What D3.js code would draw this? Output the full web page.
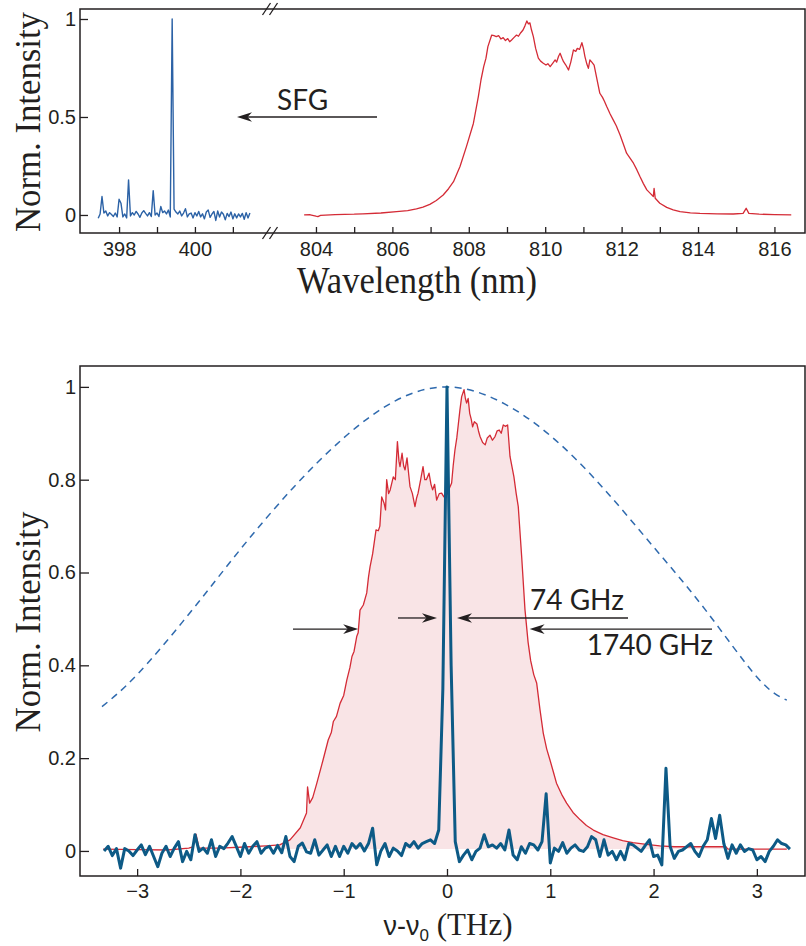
<!DOCTYPE html>
<html>
<head>
<meta charset="utf-8">
<script src="https://cdn.jsdelivr.net/npm/d3@7"></script>
<style>
body { margin: 0; background: #fff; }
</style>
</head>
<body>
<div id="vis_container"></div>
<script>
// ---- data ----

// top panel, SFG spectrum, sampled every 0.05 nm starting at 397.45 nm
var sfgWlStart = 397.45, sfgWlStep = 0.05;
var sfgWlValues = [
	-0.017, 0.005, 0.094, 0.010, 0.020, -0.005, 0.012, 0.002, -0.008, 0.010,
	-0.010, 0.080, 0.060, -0.010, 0.005, -0.015, 0.179, -0.005, 0.012, 0.000,
	0.018, 0.005, -0.012, 0.010, 0.022, 0.008, -0.005, 0.012, -0.008, 0.124,
	0.000, 0.010, -0.008, 0.043, 0.012, 0.020, 0.005, 0.025, -0.010, 1.000,
	0.030, 0.015, 0.005, 0.020, -0.005, 0.010, 0.032, -0.010, 0.005, 0.010,
	-0.015, 0.012, -0.005, 0.018, -0.010, 0.006, -0.020, 0.015, 0.025, -0.012,
	0.005, 0.018, -0.028, 0.020, -0.010, 0.015, 0.004, -0.025, 0.008, -0.008,
	0.015, -0.020, 0.006, -0.015, 0.005, -0.010, 0.008, -0.022, 0.012, -0.015,
	0.010
];

// top panel, pump spectrum [wavelength nm, intensity]
var pumpWl = [
	[803.69,0.000],[803.85,0.001],[804.00,-0.006],[804.05,-0.008],[804.12,-0.002],[804.50,0.002],
	[805.00,0.004],[805.23,0.006],[805.70,0.010],[806.11,0.017],[806.40,0.022],[806.63,0.031],
	[806.80,0.040],[806.98,0.054],[807.15,0.074],[807.33,0.102],[807.47,0.134],[807.60,0.170],
	[807.77,0.247],[807.94,0.350],[808.12,0.467],[808.25,0.604],[808.32,0.690],[808.39,0.757],
	[808.45,0.800],[808.50,0.859],[808.60,0.918],[808.66,0.915],[808.72,0.910],[808.78,0.915],
	[808.84,0.898],[808.90,0.905],[808.96,0.890],[809.02,0.900],[809.07,0.884],[809.12,0.893],
	[809.18,0.905],[809.25,0.918],[809.30,0.912],[809.36,0.930],[809.42,0.944],[809.47,0.965],
	[809.52,0.990],[809.56,0.975],[809.60,0.980],[809.64,0.945],[809.69,0.910],[809.75,0.850],
	[809.82,0.800],[809.88,0.785],[809.95,0.774],[810.02,0.765],[810.07,0.772],[810.13,0.757],
	[810.20,0.775],[810.26,0.791],[810.30,0.780],[810.35,0.810],[810.39,0.825],[810.44,0.800],
	[810.48,0.782],[810.54,0.765],[810.61,0.740],[810.67,0.780],[810.74,0.842],[810.80,0.835],
	[810.84,0.850],[810.90,0.845],[810.96,0.879],[811.00,0.850],[811.04,0.808],[811.09,0.770],
	[811.13,0.748],[811.17,0.791],[811.22,0.780],[811.28,0.765],[811.35,0.697],[811.43,0.621],
	[811.50,0.600],[811.55,0.580],[811.61,0.553],[811.70,0.515],[811.78,0.485],[811.86,0.455],
	[811.96,0.408],[812.04,0.365],[812.13,0.315],[812.22,0.290],[812.31,0.264],[812.40,0.230],
	[812.48,0.196],[812.57,0.160],[812.66,0.128],[812.75,0.110],[812.83,0.094],[812.85,0.136],
	[812.88,0.085],[813.00,0.060],[813.18,0.039],[813.35,0.026],[813.53,0.017],[813.80,0.011],
	[814.05,0.008],[814.50,0.006],[814.92,0.005],[815.18,0.008],[815.26,0.034],[815.33,0.008],
	[815.60,0.004],[816.00,0.002],[816.44,0.000]
];

// bottom panel, SFG spectrum, sampled every 0.04 THz starting at -3.32 THz
var sfgFreqStart = -3.32, sfgFreqStep = 0.04;
var sfgFreqValues = [
	0.000, 0.010, -0.010, 0.005, -0.037, 0.005, 0.000, -0.010, 0.002, 0.013,
	-0.008, 0.010, -0.012, -0.034, -0.005, 0.010, -0.012, 0.006, 0.020, -0.023,
	-0.001, -0.019, 0.035, -0.001, 0.006, -0.005, 0.024, -0.012, 0.010, 0.005,
	0.017, 0.031, 0.010, -0.012, 0.016, -0.005, 0.010, 0.020, -0.005, 0.006,
	0.010, -0.005, 0.012, -0.004, 0.031, -0.012, -0.023, 0.010, 0.017, -0.002,
	-0.005, 0.024, -0.009, 0.002, 0.013, -0.012, 0.010, -0.012, 0.010, -0.005,
	0.016, 0.006, 0.016, 0.000, 0.016, 0.049, -0.030, 0.000, 0.016, -0.012,
	0.006, 0.000, -0.010, 0.016, 0.009, 0.020, 0.006, 0.016, 0.020, 0.024,
	0.016, 0.045, 0.350, 1.000, 0.400, 0.020, -0.023, -0.009, 0.002, -0.019,
	-0.001, 0.006, 0.035, 0.009, 0.013, 0.006, 0.016, 0.002, 0.045, -0.009,
	-0.019, 0.009, -0.005, 0.016, 0.013, 0.002, 0.020, 0.123, -0.026, 0.006,
	-0.001, 0.018, -0.005, 0.006, 0.013, 0.002, -0.001, 0.009, 0.031, 0.024,
	-0.012, 0.024, -0.009, -0.001, -0.019, -0.001, -0.019, 0.016, 0.013, 0.006,
	-0.001, 0.012, 0.024, -0.012, -0.009, -0.030, 0.178, 0.010, -0.016, -0.001,
	0.002, 0.009, 0.016, -0.001, -0.012, 0.010, 0.024, 0.070, 0.027, 0.077,
	0.016, -0.016, 0.013, -0.005, 0.013, -0.001, 0.005, 0.002, -0.019, -0.012,
	-0.023, -0.001, 0.010, 0.024, 0.016, 0.013, 0.004
];

// bottom panel, pump spectrum [nu - nu0 THz, intensity]
var pumpFreq = [
	[-3.33,0.004],[-3.00,0.003],[-2.71,0.002],[-2.50,0.006],[-2.46,0.009],[-2.43,0.036],[-2.40,0.006],
	[-2.20,0.006],[-1.91,0.009],[-1.75,0.011],[-1.62,0.013],[-1.52,0.024],[-1.42,0.050],[-1.36,0.082],
	[-1.35,0.138],[-1.33,0.103],[-1.30,0.115],[-1.26,0.146],[-1.20,0.196],[-1.15,0.239],[-1.12,0.255],
	[-1.10,0.279],[-1.07,0.290],[-1.035,0.318],[-1.00,0.335],[-0.97,0.368],[-0.94,0.395],[-0.92,0.419],
	[-0.90,0.430],[-0.874,0.462],[-0.86,0.470],[-0.842,0.519],[-0.81,0.530],[-0.777,0.556],[-0.76,0.590],
	[-0.745,0.612],[-0.72,0.640],[-0.687,0.692],[-0.665,0.690],[-0.65,0.700],[-0.632,0.763],[-0.61,0.750],
	[-0.595,0.735],[-0.584,0.800],[-0.565,0.770],[-0.55,0.778],[-0.52,0.806],[-0.50,0.800],[-0.48,0.882],
	[-0.465,0.840],[-0.455,0.828],[-0.435,0.857],[-0.42,0.830],[-0.406,0.821],[-0.387,0.847],[-0.37,0.810],
	[-0.358,0.785],[-0.335,0.770],[-0.31,0.742],[-0.295,0.760],[-0.28,0.771],[-0.255,0.800],[-0.232,0.828],
	[-0.215,0.800],[-0.20,0.800],[-0.174,0.814],[-0.155,0.790],[-0.139,0.778],[-0.12,0.790],[-0.10,0.756],
	[-0.075,0.770],[-0.052,0.771],[-0.03,0.763],[0.00,0.768],[0.02,0.780],[0.045,0.793],[0.06,0.830],
	[0.077,0.864],[0.095,0.890],[0.11,0.920],[0.125,0.950],[0.142,0.979],[0.165,0.994],[0.178,0.975],
	[0.19,0.965],[0.205,0.975],[0.22,0.943],[0.235,0.930],[0.248,0.914],[0.265,0.925],[0.29,0.920],
	[0.305,0.905],[0.32,0.893],[0.345,0.880],[0.37,0.875],[0.39,0.890],[0.416,0.896],[0.44,0.885],
	[0.465,0.893],[0.485,0.905],[0.506,0.907],[0.525,0.900],[0.545,0.918],[0.565,0.915],[0.587,0.918],
	[0.61,0.850],[0.648,0.806],[0.67,0.770],[0.69,0.742],[0.723,0.634],[0.755,0.520],[0.785,0.450],
	[0.81,0.410],[0.84,0.380],[0.868,0.362],[0.90,0.305],[0.932,0.254],[0.965,0.220],[0.997,0.196],
	[1.03,0.170],[1.06,0.146],[1.11,0.122],[1.158,0.103],[1.22,0.083],[1.29,0.067],[1.35,0.055],
	[1.417,0.045],[1.51,0.035],[1.61,0.028],[1.70,0.022],[1.80,0.018],[1.93,0.014],[2.06,0.011],
	[2.20,0.009],[2.38,0.009],[2.55,0.009],[2.70,0.009],[2.72,0.004],[3.00,0.004],[3.29,0.004]
];

// dashed envelope, read at a few points
var envFreq = [-3.34, -3.0, -2.5, -2.0, -1.5, -1.0, -0.5, 0, 0.5, 1.0, 1.5, 2.0, 2.5, 3.0, 3.29];
var envValues = [0.311, 0.38, 0.51, 0.65, 0.78, 0.89, 0.97, 1.0, 0.97, 0.895, 0.785, 0.655, 0.52, 0.375, 0.325];

var leftWlTicks = [398, 399, 400, 401];
var rightWlTicks = [804, 805, 806, 807, 808, 809, 810, 811, 812, 813, 814, 815, 816];
var upperYTicks = [0, 0.5, 1];
var freqTicks = [-3, -2, -1, 0, 1, 2, 3];
var lowerYTicks = [0, 0.2, 0.4, 0.6, 0.8, 1];

// FWHM marks (THz) and their labels
var fwhmPump = [-0.86, 0.80], fwhmSfg = [-0.097, 0.097];
var fwhmLabels = ["74 GHz", "1740 GHz"];

// ---- drawing ----
var ink = "#231f20";
var sans = "'Liberation Sans', Arial, sans-serif";
var serif = "'Liberation Serif', 'Times New Roman', serif";
var note = "Lato, 'Open Sans', sans-serif";

var svg = d3.select("#vis_container").append("svg")
	.attr("width", 806)
	.attr("height", 946)
	.style("display", "block");

var upper = {left: 80, right: 805, top: 9, bottom: 233, brk: 270};
var lower = {left: 80, right: 805, top: 366, bottom: 876};

var xLeft = d3.scaleLinear().domain([396.97, 401.9]).range([upper.left, 267]);
var xRight = d3.scaleLinear().domain([802.98, 816.8]).range([277, upper.right]);
var yUp = d3.scaleLinear().domain([-0.092, 1.051]).range([upper.bottom, upper.top]);

var xF = d3.scaleLinear().domain([-3.553, 3.466]).range([lower.left, lower.right]);
var yLo = d3.scaleLinear().domain([-0.054, 1.045]).range([lower.bottom, lower.top]);

function styleAxis(g) {
	g.select(".domain").remove();
	g.selectAll("line").attr("stroke", ink).attr("stroke-width", 1.3);
	g.selectAll("text").attr("fill", ink).style("font-family", sans).style("font-size", "20px");
}

function evenOnly(d) { return d % 2 === 0 ? d : ""; }

// ---------- upper panel ----------
var up = svg.append("g");

up.append("g")
	.attr("transform", "translate(0," + upper.bottom + ")")
	.call(d3.axisBottom(xLeft).tickValues(leftWlTicks).tickFormat(evenOnly).tickSize(-6).tickPadding(9))
	.call(styleAxis);
up.append("g")
	.attr("transform", "translate(0," + upper.bottom + ")")
	.call(d3.axisBottom(xRight).tickValues(rightWlTicks).tickFormat(evenOnly).tickSize(-6).tickPadding(9))
	.call(styleAxis);
up.append("g")
	.attr("transform", "translate(" + upper.left + ",0)")
	.call(d3.axisLeft(yUp).tickValues(upperYTicks).tickFormat(d3.format("")).tickSize(-8).tickPadding(4))
	.call(styleAxis);

up.append("rect")
	.attr("x", upper.left).attr("y", upper.top)
	.attr("width", upper.right - upper.left).attr("height", upper.bottom - upper.top)
	.attr("fill", "none").attr("stroke", ink).attr("stroke-width", 1.5);

// axis break marks
[upper.top, upper.bottom].forEach(function(yy) {
	[-3.5, 3.5].forEach(function(dx) {
		up.append("line")
			.attr("x1", upper.brk + dx - 4).attr("y1", yy + 6)
			.attr("x2", upper.brk + dx + 4).attr("y2", yy - 6)
			.attr("stroke", ink).attr("stroke-width", 1.3);
	});
});

var sfgWlLine = d3.line()
	.x(function(d, i) { return xLeft(sfgWlStart + i * sfgWlStep); })
	.y(function(d) { return yUp(d); });
up.append("path")
	.attr("d", sfgWlLine(sfgWlValues))
	.attr("fill", "none").attr("stroke", "#2c62a6").attr("stroke-width", 1.4)
	.attr("stroke-linejoin", "round");

var pumpWlLine = d3.line()
	.x(function(d) { return xRight(d[0]); })
	.y(function(d) { return yUp(d[1]); });
up.append("path")
	.attr("d", pumpWlLine(pumpWl))
	.attr("fill", "none").attr("stroke", "#d42b36").attr("stroke-width", 1.3)
	.attr("stroke-linejoin", "round");

function arrow(g, x1, x2, y) {
	var d = x2 > x1 ? 1 : -1;
	g.append("line")
		.attr("x1", x1).attr("y1", y).attr("x2", x2 - d * 10).attr("y2", y)
		.attr("stroke", ink).attr("stroke-width", 1.3);
	g.append("path")
		.attr("d", "M" + x2 + "," + y +
			"L" + (x2 - d * 15) + "," + (y - 4.8) +
			"L" + (x2 - d * 10.5) + "," + y +
			"L" + (x2 - d * 15) + "," + (y + 4.8) + "Z")
		.attr("fill", ink);
}

// SFG arrow and label
arrow(up, 377, 237, 117);
up.append("text")
	.attr("x", 277).attr("y", 110)
	.style("font-family", note).style("font-size", "28px").attr("fill", ink)
	.text("SFG");

up.append("text")
	.attr("transform", "translate(40," + ((upper.top + upper.bottom) / 2 + 1) + ") rotate(-90)")
	.attr("text-anchor", "middle")
	.attr("textLength", 220).attr("lengthAdjust", "spacingAndGlyphs")
	.style("font-family", serif).style("font-size", "36px").attr("fill", ink)
	.text("Norm. Intensity");

up.append("text")
	.attr("x", 417).attr("y", 293)
	.attr("text-anchor", "middle")
	.attr("textLength", 240).attr("lengthAdjust", "spacingAndGlyphs")
	.style("font-family", serif).style("font-size", "37px").attr("fill", ink)
	.text("Wavelength (nm)");

// ---------- lower panel ----------
var lo = svg.append("g");

// pink fill under the pump spectrum
var pumpFill = pumpFreq.filter(function(d) { return d[0] >= -1.62 && d[0] <= 2.72; });
lo.append("path")
	.attr("d", d3.area()
		.x(function(d) { return xF(d[0]); })
		.y0(yLo(0.004))
		.y1(function(d) { return yLo(d[1]); })(pumpFill))
	.attr("fill", "#f9e4e6");

lo.append("g")
	.attr("transform", "translate(0," + lower.bottom + ")")
	.call(d3.axisBottom(xF).tickValues(freqTicks).tickFormat(d3.format("")).tickSize(-7).tickPadding(8))
	.call(styleAxis);
lo.append("g")
	.attr("transform", "translate(" + lower.left + ",0)")
	.call(d3.axisLeft(yLo).tickValues(lowerYTicks).tickFormat(d3.format("")).tickSize(-9).tickPadding(4))
	.call(styleAxis);

lo.append("rect")
	.attr("x", lower.left).attr("y", lower.top)
	.attr("width", lower.right - lower.left).attr("height", lower.bottom - lower.top)
	.attr("fill", "none").attr("stroke", ink).attr("stroke-width", 1.5);

// dashed envelope
lo.append("path")
	.attr("d", d3.line()
		.x(function(d) { return xF(d); })
		.y(function(d, i) { return yLo(envValues[i]); })
		.curve(d3.curveNatural)(envFreq))
	.attr("fill", "none").attr("stroke", "#2f6aae").attr("stroke-width", 1.5)
	.attr("stroke-dasharray", "7,5.5");

lo.append("path")
	.attr("d", d3.line()
		.x(function(d) { return xF(d[0]); })
		.y(function(d) { return yLo(d[1]); })(pumpFreq))
	.attr("fill", "none").attr("stroke", "#d42b36").attr("stroke-width", 1.3)
	.attr("stroke-linejoin", "round");

lo.append("path")
	.attr("d", d3.line()
		.x(function(d, i) { return xF(sfgFreqStart + i * sfgFreqStep); })
		.y(function(d) { return yLo(d); })(sfgFreqValues))
	.attr("fill", "none").attr("stroke", "#0d5a86").attr("stroke-width", 3)
	.attr("stroke-linejoin", "round");

// FWHM arrows
var ySfgMark = yLo(0.502), yPumpMark = yLo(0.478);
arrow(lo, 398, xF(fwhmSfg[0]), ySfgMark);
arrow(lo, 628, xF(fwhmSfg[1]), ySfgMark);
arrow(lo, 293, xF(fwhmPump[0]), yPumpMark);
arrow(lo, 712, xF(fwhmPump[1]), yPumpMark);

lo.append("text")
	.attr("x", 530).attr("y", ySfgMark - 8)
	.style("font-family", note).style("font-size", "28px").attr("fill", ink)
	.text(fwhmLabels[0]);
lo.append("text")
	.attr("x", 713).attr("y", yPumpMark + 26)
	.attr("text-anchor", "end")
	.style("font-family", note).style("font-size", "28px").attr("fill", ink)
	.text(fwhmLabels[1]);

lo.append("text")
	.attr("transform", "translate(40," + ((lower.top + lower.bottom) / 2 + 1) + ") rotate(-90)")
	.attr("text-anchor", "middle")
	.attr("textLength", 221).attr("lengthAdjust", "spacingAndGlyphs")
	.style("font-family", serif).style("font-size", "36px").attr("fill", ink)
	.text("Norm. Intensity");

var xl = lo.append("text")
	.attr("x", 448).attr("y", 935)
	.attr("text-anchor", "middle")
	.attr("fill", ink);
xl.append("tspan").style("font-family", sans).style("font-size", "27px").text("ν-ν");
xl.append("tspan").style("font-family", sans).style("font-size", "17px").attr("dy", 6).text("0");
xl.append("tspan").style("font-family", serif).style("font-size", "31px").attr("dy", -6).text(" (THz)");
</script>
</body>
</html>
